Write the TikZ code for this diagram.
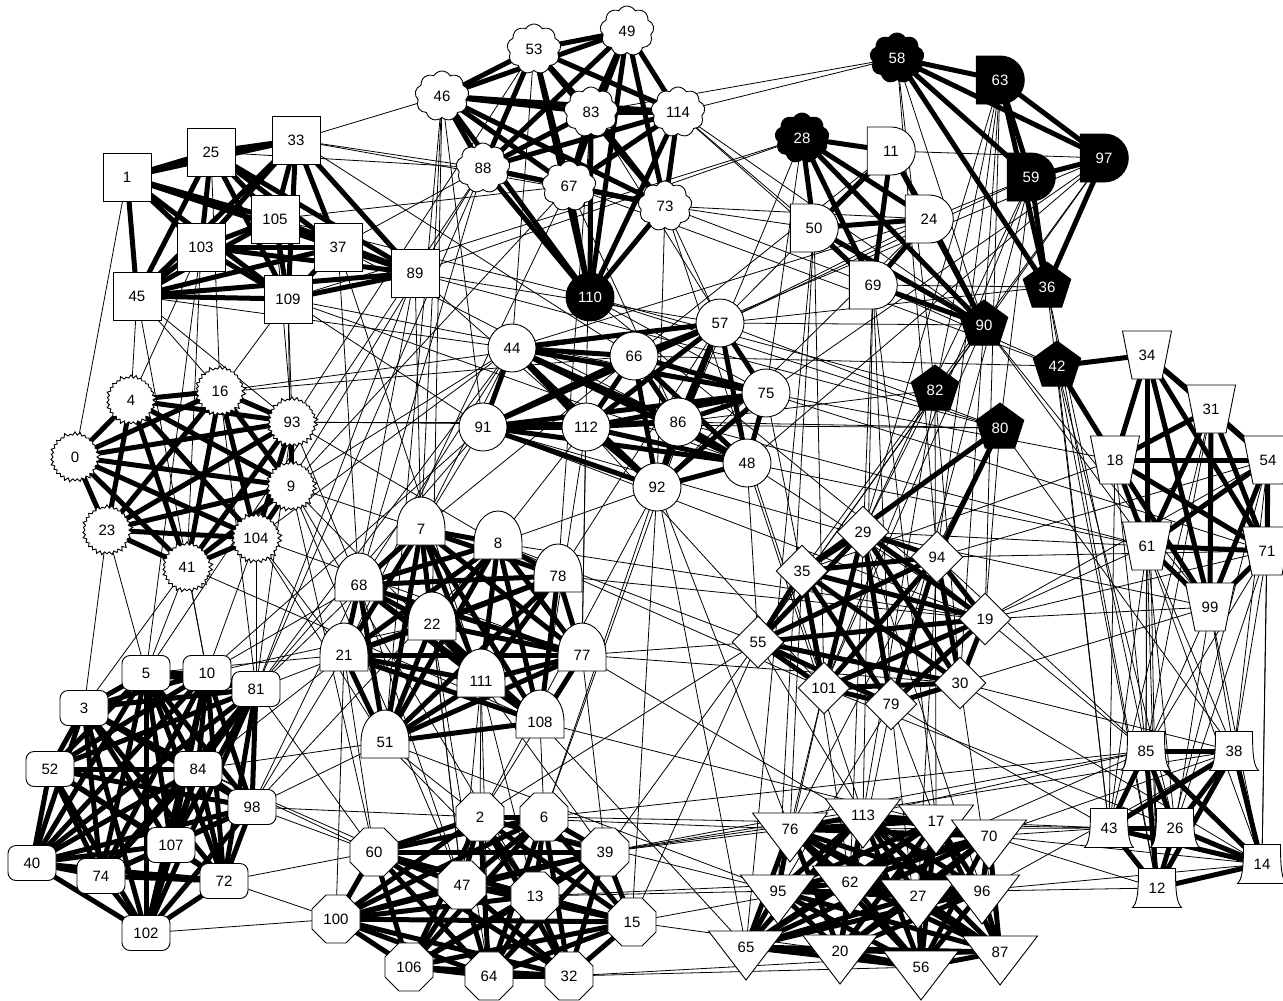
\documentclass[tikz,border=0pt]{standalone}
\usepackage{fontspec}
\setmainfont{Liberation Sans}
\usetikzlibrary{shapes.geometric,shapes.symbols,shapes.misc}
\pgfdeclarelayer{bg}
\pgfsetlayers{bg,main}
\tikzset{
  every node/.style={font=\fontsize{15}{18}\selectfont, inner sep=0pt},
  ol/.style={draw=black, line width=0.9pt, fill=white},
  blk/.style={fill=black, text=white},
  lbl/.style={},
  sq/.style={ol, rectangle, minimum size=48pt},
  cir/.style={ol, circle, minimum size=48pt},
  cl/.style={ol, cloud, cloud puffs=9, cloud puff arc=120, aspect=1, minimum width=54pt, minimum height=50pt},
  dsh/.style={ol, rounded rectangle, rounded rectangle left arc=none, minimum width=48pt, minimum height=48pt},
  pent/.style={ol, blk, regular polygon, regular polygon sides=5, minimum size=50pt},
  oct/.style={ol, regular polygon, regular polygon sides=8, minimum size=52pt},
  dia/.style={ol, diamond, minimum width=52pt, minimum height=52pt},
  rr/.style={ol, rectangle, rounded corners=8pt, minimum width=48pt, minimum height=35pt},
  stb/.style={ol, starburst, starburst points=30, starburst point height=4pt, random starburst=1, minimum width=52pt, minimum height=52pt},
  thickedge/.style={line width=5pt},
  thinedge/.style={line width=0.8pt}
}
\newcommand\bellnode[2]{\draw[ol,shift={(#2)}] (-24,16) -- (-24,0) .. controls (-24,-20) and (-12,-32) .. (0,-32) .. controls (12,-32) and (24,-20) .. (24,0) -- (24,16) -- cycle; \node[lbl] (n#1) at (#2) {#1};}
\newcommand\trinode[2]{\draw[ol,shift={(#2)}] (-37.5,-16) -- (37.5,-16) -- (0,33) -- cycle; \node[lbl] (n#1) at (#2) {#1};}
\newcommand\trapnode[2]{\draw[ol,shift={(#2)}] (-24.5,-24) -- (24.5,-24) -- (15,24) -- (-15,24) -- cycle; \node[lbl] (n#1) at (#2) {#1};}
\newcommand\flnode[2]{\draw[ol,shift={(#2)}] (-18.5,-19.5) -- (18.5,-19.5) .. controls (18.5,6) and (20,15) .. (24.5,19.5) -- (-24.5,19.5) .. controls (-20,15) and (-18.5,6) .. (-18.5,-19.5) -- cycle; \node[lbl] (n#1) at (#2) {#1};}
\newcommand\clique[1]{%
  \foreach \a [count=\i] in {#1}{%
    \foreach \b [count=\j] in {#1}{%
      \ifnum\j>\i \draw[thickedge] (n\a.center) -- (n\b.center);\fi
    }}}
\begin{document}
\begin{tikzpicture}[x=1pt,y=-1pt]
\useasboundingbox (0,0) rectangle (1283,1001);
% squares
\node[sq] (n1) at (127,177) {1};
\node[sq] (n25) at (211,152) {25};
\node[sq] (n33) at (296,140) {33};
\node[sq] (n105) at (275,219) {105};
\node[sq] (n103) at (201,247) {103};
\node[sq] (n37) at (338,247) {37};
\node[sq] (n45) at (137,296) {45};
\node[sq] (n109) at (288,299) {109};
\node[sq] (n89) at (415,273) {89};
% clouds
\node[cl] (n53) at (534,49) {53};
\node[cl] (n49) at (627,31) {49};
\node[cl] (n46) at (442,96) {46};
\node[cl] (n83) at (591,112) {83};
\node[cl] (n114) at (678,112) {114};
\node[cl] (n88) at (483,168) {88};
\node[cl] (n67) at (569,186) {67};
\node[cl] (n73) at (665,206) {73};
\node[cl,blk] (n58) at (897,58) {58};
\node[cl,blk] (n28) at (802,138) {28};
\node[cir,blk] (n110) at (590,297) {110};
% D shapes
\node[dsh,blk] (n63) at (1000,80) {63};
\node[dsh,blk] (n97) at (1104,158) {97};
\node[dsh,blk] (n59) at (1031,177) {59};
\node[dsh] (n11) at (891,151) {11};
\node[dsh] (n24) at (929,219) {24};
\node[dsh] (n50) at (814,228) {50};
\node[dsh] (n69) at (873,285) {69};
% pentagons
\node[pent] (n36) at (1047,287) {36};
\node[pent] (n90) at (984,325) {90};
\node[pent] (n42) at (1057,366) {42};
\node[pent] (n82) at (935,390) {82};
\node[pent] (n80) at (1000,428) {80};
% circles
\node[cir] (n57) at (720,323) {57};
\node[cir] (n44) at (512,348) {44};
\node[cir] (n66) at (634,356) {66};
\node[cir] (n75) at (766,393) {75};
\node[cir] (n91) at (483,427) {91};
\node[cir] (n112) at (586,427) {112};
\node[cir] (n86) at (678,422) {86};
\node[cir] (n48) at (747,463) {48};
\node[cir] (n92) at (657,487) {92};
% starbursts
\node[stb] (n4) at (131,400) {4};
\node[stb] (n16) at (220,391) {16};
\node[stb] (n93) at (292,422) {93};
\node[stb] (n0) at (75,457) {0};
\node[stb] (n9) at (291,486) {9};
\node[stb] (n23) at (107,530) {23};
\node[stb] (n104) at (256,538) {104};
\node[stb] (n41) at (187,567) {41};
% bells
\bellnode{7}{421,529}
\bellnode{8}{498,543}
\bellnode{78}{558,576}
\bellnode{68}{359,585}
\bellnode{22}{432,624}
\bellnode{21}{344,655}
\bellnode{77}{582,655}
\bellnode{111}{481,681}
\bellnode{108}{540,722}
\bellnode{51}{385,742}
% diamonds
\node[dia] (n29) at (863,532) {29};
\node[dia] (n94) at (937,557) {94};
\node[dia] (n35) at (802,571) {35};
\node[dia] (n19) at (985,619) {19};
\node[dia] (n55) at (758,642) {55};
\node[dia] (n101) at (824,688) {101};
\node[dia] (n79) at (891,704) {79};
\node[dia] (n30) at (960,683) {30};
% trapezia
\trapnode{34}{1147,355}
\trapnode{31}{1211,409}
\trapnode{18}{1115,460}
\trapnode{54}{1268,460}
\trapnode{61}{1147,546}
\trapnode{71}{1267,551}
\trapnode{99}{1210,607}
% flared
\flnode{85}{1146,751}
\flnode{38}{1234,751}
\flnode{43}{1109,828}
\flnode{26}{1175,828}
\flnode{14}{1262,864}
\flnode{12}{1157,888}
% rounded rectangles
\node[rr] (n5) at (146,673) {5};
\node[rr] (n10) at (207,673) {10};
\node[rr] (n81) at (256,689) {81};
\node[rr] (n3) at (84,708) {3};
\node[rr] (n84) at (198,769) {84};
\node[rr] (n52) at (50,769) {52};
\node[rr] (n98) at (252,807) {98};
\node[rr] (n107) at (171,845) {107};
\node[rr] (n40) at (32,863) {40};
\node[rr] (n74) at (101,876) {74};
\node[rr] (n72) at (224,881) {72};
\node[rr] (n102) at (146,933) {102};
% octagons
\node[oct] (n2) at (480,817) {2};
\node[oct] (n6) at (544,817) {6};
\node[oct] (n39) at (605,852) {39};
\node[oct] (n60) at (374,852) {60};
\node[oct] (n47) at (462,885) {47};
\node[oct] (n13) at (535,896) {13};
\node[oct] (n100) at (336,919) {100};
\node[oct] (n15) at (632,922) {15};
\node[oct] (n106) at (409,967) {106};
\node[oct] (n64) at (489,976) {64};
\node[oct] (n32) at (569,976) {32};
% triangles
\trinode{76}{790,829}
\trinode{113}{863,815}
\trinode{17}{936,821}
\trinode{70}{989,836}
\trinode{95}{778,891}
\trinode{62}{850,882}
\trinode{27}{918,896}
\trinode{96}{982,891}
\trinode{65}{746,947}
\trinode{20}{840,951}
\trinode{56}{921,967}
\trinode{87}{1000,952}
\begin{pgfonlayer}{bg}
\fill[white] (0,0) rectangle (1283,1001);
\clique{1,25,33,105,103,37,45,109,89}
\clique{53,49,46,83,114,88,67,73,110}
\clique{58,63,97,59,36}
\clique{28,11,24,50,69,90}
\clique{57,44,66,75,91,112,86,48,92}
\clique{4,16,93,0,9,23,104,41}
\clique{7,8,78,68,22,21,77,111,108,51}
\clique{29,94,35,19,55,101,79,30}
\clique{34,31,18,54,61,71,99}
\clique{85,38,43,26,14,12}
\clique{5,10,81,3,84,52,98,107,40,74,72,102}
\clique{2,6,39,60,47,13,100,15,106,64,32}
\clique{76,113,17,70,95,62,27,96,65,20,56,87}
\foreach \a/\b in {80/35,80/94,42/34,42/18}
  \draw[thickedge] (n\a.center) -- (n\b.center);
\foreach \a/\b in {1/0,33/46,25/88,33/66,4/103,103/41,45/93,45/44,16/57,4/66,28/109,28/89,109/91,109/48,89/80,89/57,105/110,37/88,37/68,103/5,45/10,109/9,89/81,89/21,33/73,105/67,37/111,89/92,33/88,25/16,105/93,109/75,37/86,
46/22,46/51,46/7,88/81,88/5,67/21,67/86,73/57,73/50,73/69,73/92,73/101,114/58,114/50,114/69,83/58,83/77,83/78,53/93,110/75,110/82,110/80,110/19,88/104,67/9,73/24,46/91,88/68,53/44,67/42,83/75,114/90,
44/9,44/104,44/68,44/81,91/81,91/10,91/94,91/19,112/22,112/77,112/101,92/65,92/2,92/6,92/76,92/15,48/55,48/19,48/113,48/61,75/18,75/71,75/35,57/24,57/59,57/36,57/90,66/97,66/11,86/82,86/80,86/61,66/42,91/21,44/7,112/108,57/80,93/80,
58/90,58/94,58/82,63/82,63/29,63/94,63/30,63/19,59/29,59/80,59/101,59/79,97/35,97/55,97/48,97/75,11/57,24/44,24/92,36/43,36/12,36/85,36/69,42/43,42/12,42/26,42/69,90/61,90/99,90/101,90/55,82/29,82/30,82/17,82/113,80/76,80/38,80/19,50/65,50/101,50/95,69/113,69/62,69/79,69/17,28/75,28/92,11/97,24/59,
9/13,9/111,9/60,9/47,93/86,104/81,104/21,104/77,41/5,41/3,41/10,41/108,23/5,16/109,93/109,9/7,93/8,16/45,4/45,93/68,104/51,
7/89,8/92,8/19,8/55,8/101,78/19,77/55,77/30,21/81,21/100,21/60,51/84,51/98,51/2,51/95,51/13,111/2,111/47,108/6,108/65,108/70,22/47,22/64,21/5,68/10,78/57,7/66,77/96,111/39,
29/61,29/99,94/71,94/54,94/85,35/18,19/61,19/71,19/54,19/99,19/85,30/38,30/99,30/87,79/65,79/20,79/56,79/17,101/95,101/76,55/15,55/39,55/113,35/76,35/62,29/96,94/27,55/2,30/14,79/43,
18/85,18/43,61/85,61/12,61/26,61/43,61/38,99/85,99/38,99/26,71/38,71/14,71/85,54/14,54/12,34/85,34/12,31/85,31/43,18/14,99/14,54/38,71/26,
43/76,43/70,43/17,12/70,12/96,85/113,85/62,38/70,38/96,14/27,14/70,85/6,38/39,26/101,
10/104,81/7,81/93,81/16,84/21,84/60,98/68,98/7,98/60,98/8,72/60,72/100,102/100,10/22,98/2,84/47,3/23,
2/76,2/95,6/43,39/76,39/85,39/113,13/95,13/62,15/62,15/20,32/56,32/87,47/7,64/111,2/108,60/81,47/68,13/111,39/77,6/57}
  \draw[thinedge] (n\a.center) -- (n\b.center);
\end{pgfonlayer}
\end{tikzpicture}
\end{document}
